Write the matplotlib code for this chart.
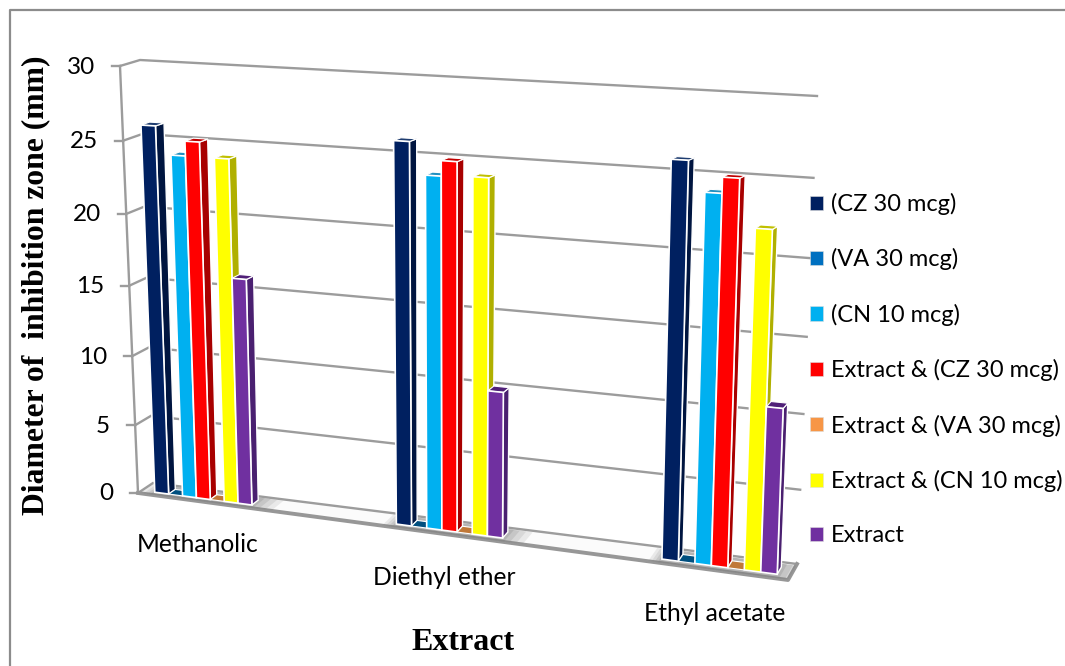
import matplotlib
matplotlib.use("Agg")
import matplotlib.pyplot as plt
from matplotlib.patches import Polygon, Patch

# ---- data ----
categories = ["Methanolic", "Diethyl ether", "Ethyl acetate"]
series_names = ["(CZ 30 mcg)", "(VA 30 mcg)", "(CN 10 mcg)", "Extract & (CZ 30 mcg)",
                "Extract & (VA 30 mcg)", "Extract & (CN 10 mcg)", "Extract"]
cz30 = [26.0, 26.0, 25.9]
va30 = [0, 0, 0]
cn10 = [24.1, 23.9, 24.0]
ext_cz30 = [25.1, 24.9, 25.0]
ext_va30 = [0, 0, 0]
ext_cn10 = [24.1, 24.0, 22.0]
extract = [16.0, 10.0, 10.85]
y_ticks = [0, 5, 10, 15, 20, 25, 30]

all_series = [cz30, va30, cn10, ext_cz30, ext_va30, ext_cn10, extract]
front_colors = ["#002060", "#0070C0", "#00B0F0", "#FF0000", "#F79646", "#FFFF00", "#7030A0"]
side_colors = ["#001540", "#004C80", "#0078A8", "#A80000", "#B87034", "#B0B000", "#4A2070"]
top_colors = ["#1F3D70", "#004F7F", "#2090C0", "#C00000", "#C07838", "#C0C000", "#502078"]

# ---- perspective scale: (u along category axis, d depth, v value) -> pixels ----
FL0, FL30 = (138, 493), (120, 66)
BL0, BL30 = (153, 483), (140, 60)
BR0, BR30 = (797, 564), (817, 96)
FR0, FR30 = (788, 580), (805, 100)
VMAX, K = 30.0, 1.06


def P(u, d, v):
    t = v / VMAX
    f = t / (t + K * (1 - t))
    out = []
    for i in (0, 1):
        fb = FL0[i] + (FR0[i] - FL0[i]) * u
        bb = BL0[i] + (BR0[i] - BL0[i]) * u
        ft = FL30[i] + (FR30[i] - FL30[i]) * u
        bt = BL30[i] + (BR30[i] - BL30[i]) * u
        bot = fb + (bb - fb) * d
        top = ft + (bt - ft) * d
        out.append(bot + (top - bot) * f)
    return tuple(out)


def group_center(i):
    return 0.095 + 0.361 * i + 0.0185 * i * i


def slot(i):
    return 0.0214 + 0.0020 * i


D0, D1 = 0.25, 0.70
GRID = "#9C9C9C"

fig = plt.figure(figsize=(10.65, 6.66), dpi=100)
ax = fig.add_axes([0, 0, 1, 1])
ax.set_xlim(0, 1065)
ax.set_ylim(666, 0)
ax.axis("off")

# outer frame
ax.plot([9.5, 9.5, 1070], [670, 9.5, 9.5], color="#8C8C8C", lw=1.6, zorder=1)

# floor
ax.add_patch(Polygon([P(0, 0, 0), P(0, 1, 0), P(1, 1, 0), P(1, 0, 0)], closed=True,
                     fc="#FBFBFB", ec="none", zorder=1))

# walls and gridlines
for v in y_ticks:
    a, b, c = P(0, 0, v), P(0, 1, v), P(1, 1, v)
    ax.plot([a[0], b[0], c[0]], [a[1], b[1], c[1]], color=GRID, lw=1.7, zorder=2,
            solid_joinstyle="miter")
    ax.plot([a[0] - 8, a[0]], [a[1], a[1]], color=GRID, lw=1.7, zorder=2)
    ax.text(a[0] - 25, a[1] + 1, str(v), ha="right", va="center", fontsize=17.5,
            family="Lato", color="black")
a, b = P(0, 0, 0), P(0, 0, VMAX)
ax.plot([a[0], b[0]], [a[1], b[1]], color=GRID, lw=1.7, zorder=2)

# floor edges
a, b, c = P(0, 0, 0), P(1, 0, 0), P(1, 1, 0)
ax.plot([a[0], b[0], c[0]], [a[1], b[1], c[1]], color="#979797", lw=2.8, zorder=2)

# bars, with a soft shadow on the floor
for g, cat in enumerate(categories):
    s = slot(g)
    left = group_center(g) - 3.5 * s
    for k, alpha in ((0.035, 0.14), (0.025, 0.16), (0.015, 0.2), (0.006, 0.25)):
        right = min(left + 7 * s + k, 1.0)
        ax.add_patch(Polygon([P(left - k / 2, 0.9, 0), P(right, 0.9, 0), P(right, 0.02, 0),
                              P(left - k / 2, 0.02, 0)],
                             closed=True, fc="#808080", ec="none", alpha=alpha, zorder=3))
    for j, series in enumerate(all_series):
        v = series[g]
        u0, u1 = left + j * s, left + (j + 1) * s
        ec = "white"
        ax.add_patch(Polygon([P(u1, D0, 0), P(u1, D1, 0), P(u1, D1, v), P(u1, D0, v)], closed=True,
                             fc=side_colors[j], ec=ec, lw=1.0, zorder=4 + j))
        ax.add_patch(Polygon([P(u0, D0, v), P(u1, D0, v), P(u1, D1, v), P(u0, D1, v)], closed=True,
                             fc=top_colors[j], ec=ec, lw=0.8, zorder=4 + j))
        if v > 0:
            ax.add_patch(Polygon([P(u0, D0, 0), P(u1, D0, 0), P(u1, D0, v), P(u0, D0, v)], closed=True,
                                 fc=front_colors[j], ec=ec, lw=1.2, zorder=4 + j))
    cx, cy = P(group_center(g), 0, 0)
    ax.text(cx - 2, cy + 43, cat, ha="center", va="center", fontsize=17.7, family="Lato",
            color="black")

# legend
handles = [Patch(fc=c, ec="#DDDDDD", lw=0.4, label=n) for c, n in zip(front_colors, series_names)]
ax.legend(handles=handles, loc="upper left", bbox_to_anchor=(810 / 1065, 1 - 193 / 666),
          frameon=False, prop={"family": "Lato", "size": 17.0}, handlelength=0.55,
          handleheight=0.55, handletextpad=0.33, labelspacing=1.41, borderpad=0, borderaxespad=0)

# axis titles
ax.text(36, 285, "Diameter of  inhibition zone (mm)", rotation=90, ha="center", va="center",
        fontsize=22.8, fontweight="bold", family="Liberation Serif", color="black")
ax.text(463, 642, "Extract", ha="center", va="center", fontsize=23, fontweight="bold",
        family="Liberation Serif", color="black")

fig.savefig("out.png", dpi=100)
